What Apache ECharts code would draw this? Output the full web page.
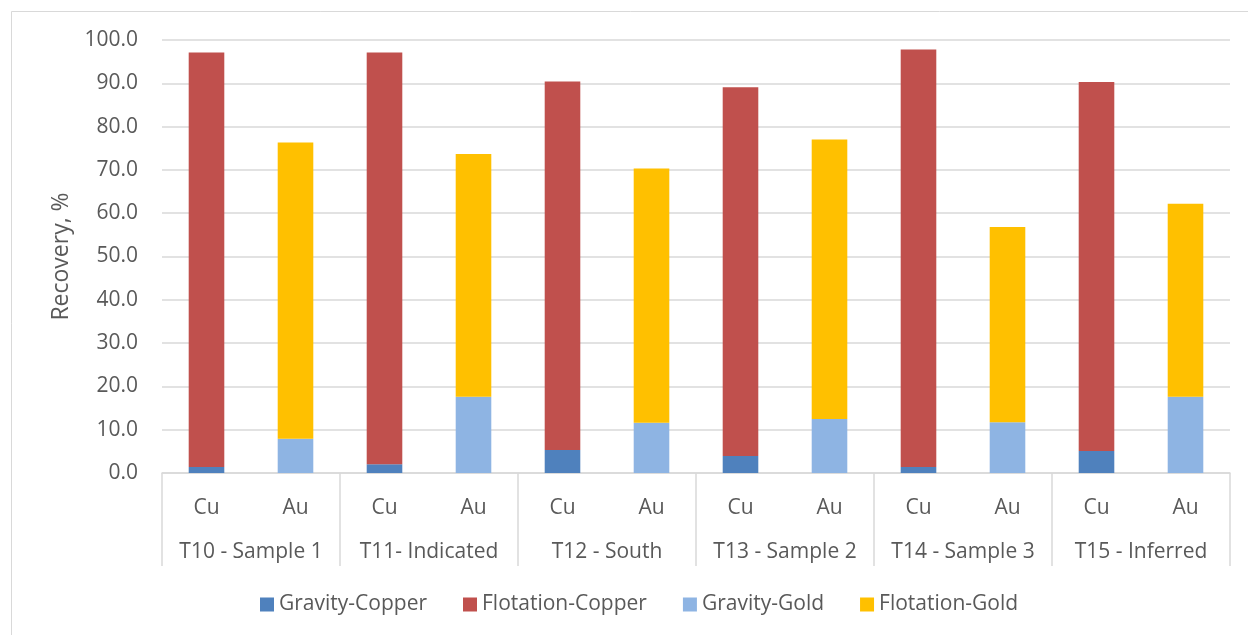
<!DOCTYPE html>
<html>
<head>
<meta charset="utf-8">
<title>Gravity and flotation recovery by sample</title>
<script src="https://cdn.jsdelivr.net/npm/echarts@6/dist/echarts.min.js"></script>
<style>
  html, body { margin: 0; padding: 0; background: #ffffff; }
  #chart { width: 1248px; height: 635px; }
</style>
</head>
<body>
<div id="chart"></div>
<script>
// Sample groups and the metal shown in each pair of columns
const groups = ['T10 - Sample 1', 'T11- Indicated', 'T12 - South', 'T13 - Sample 2', 'T14 - Sample 3', 'T15 - Inferred'];
const metals = ['Cu', 'Au'];

// Recovery (%) for each stage, one value per sample group
const gravityCopper   = [1.4, 2.0, 5.3, 3.9, 1.4, 5.1];
const flotationCopper = [95.7, 95.1, 85.1, 85.2, 96.4, 85.2];
const gravityGold     = [7.9, 17.6, 11.6, 12.5, 11.7, 17.6];
const flotationGold   = [68.4, 56.1, 58.7, 64.5, 45.1, 44.6];

// Y axis ticks
const yMin = 0, yMax = 100, yStep = 10;

const FONT = '"Open Sans", "Noto Sans", sans-serif';
const TEXT = '#595959';
const GRID_LINE = '#d9d9d9';

// One column per (group, metal); copper values go in Cu columns, gold in Au columns
const slots = [];
groups.forEach(() => metals.forEach(m => slots.push(m)));
function placeIn(values, metalIndex) {
  const out = [];
  values.forEach(v => {
    metals.forEach((m, i) => out.push(i === metalIndex ? v : '-'));
  });
  return out;
}

const seriesDefs = [
  { name: 'Gravity-Copper',   data: placeIn(gravityCopper, 0),   color: '#4f81bd' },
  { name: 'Flotation-Copper', data: placeIn(flotationCopper, 0), color: '#c0504d' },
  { name: 'Gravity-Gold',     data: placeIn(gravityGold, 1),     color: '#8eb4e3' },
  { name: 'Flotation-Gold',   data: placeIn(flotationGold, 1),   color: '#ffc000' }
];

const chart = echarts.init(document.getElementById('chart'), null, { renderer: 'canvas' });

chart.setOption({
  animation: false,
  backgroundColor: '#ffffff',
  textStyle: { fontFamily: FONT },
  graphic: [{
    type: 'rect',
    shape: { x: 11.5, y: 11.5, width: 1400, height: 800 },
    style: { fill: 'none', stroke: GRID_LINE, lineWidth: 1 },
    silent: true,
    z: -10
  }],
  grid: { left: 162, right: 18, top: 40, bottom: 162, containLabel: false },
  legend: {
    bottom: 15,
    left: 255,
    icon: 'rect',
    itemWidth: 14,
    itemHeight: 14,
    itemGap: 36,
    textStyle: { fontFamily: FONT, fontSize: 21, color: TEXT },
    data: seriesDefs.map(s => s.name)
  },
  xAxis: [
    {
      type: 'category',
      position: 'bottom',
      data: slots,
      axisLine: { show: true, lineStyle: { color: GRID_LINE, width: 1.5 } },
      axisTick: { show: false },
      axisLabel: { interval: 0, margin: 25, fontFamily: FONT, fontSize: 21, color: TEXT },
      splitLine: { show: false }
    },
    {
      type: 'category',
      position: 'bottom',
      data: groups,
      axisLine: { show: false },
      axisTick: { show: true, length: 93, interval: 0, lineStyle: { color: GRID_LINE, width: 1.5 } },
      axisLabel: { interval: 0, margin: 69, fontFamily: FONT, fontSize: 21, color: TEXT },
      splitLine: { show: false }
    }
  ],
  yAxis: {
    type: 'value',
    min: yMin,
    max: yMax,
    interval: yStep,
    name: 'Recovery, %',
    nameLocation: 'middle',
    nameRotate: 90,
    nameGap: 89,
    nameTextStyle: { fontFamily: FONT, fontSize: 23, color: TEXT },
    axisLine: { show: false },
    axisTick: { show: false },
    axisLabel: {
      margin: 24,
      fontFamily: FONT,
      fontSize: 21,
      color: TEXT,
      formatter: v => v.toFixed(1)
    },
    splitLine: { lineStyle: { color: GRID_LINE, width: 1.5 } }
  },
  series: seriesDefs.map(s => ({
    name: s.name,
    type: 'bar',
    stack: 'recovery',
    xAxisIndex: 0,
    barWidth: '40%',
    data: s.data,
    itemStyle: { color: s.color },
    emphasis: { disabled: true }
  }))
});
</script>
</body>
</html>
